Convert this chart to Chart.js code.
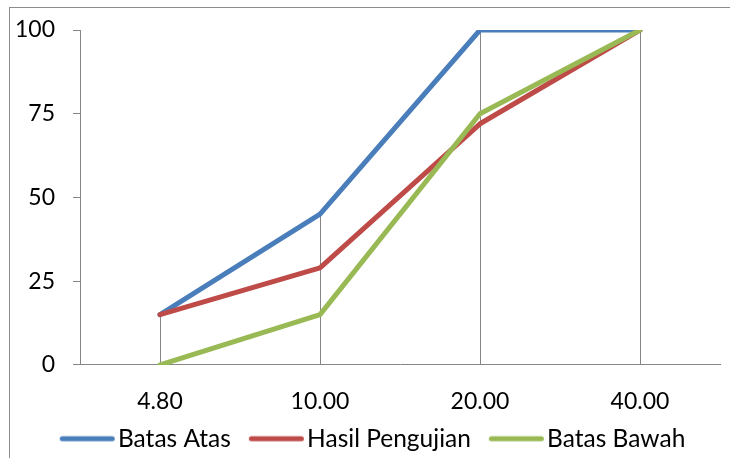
<!DOCTYPE html>
<html>
<head>
<meta charset="utf-8">
<script src="https://cdn.jsdelivr.net/npm/chart.js@4/dist/chart.umd.min.js"></script>
<style>
  html, body { margin: 0; padding: 0; background: #fff; width: 730px; height: 458px; overflow: hidden; }
  #frame { position: absolute; left: 9px; top: 7px; width: 730px; height: 460px; border-left: 1.5px solid #8c8c8c; border-top: 1.5px solid #8c8c8c; }
  #wrap { position: absolute; left: 11px; top: 9px; width: 719px; height: 449px; }
</style>
</head>
<body>
<div id="frame"></div>
<div id="wrap"><canvas id="c" width="719" height="449"></canvas></div>
<script>
const categories = ["4.80", "10.00", "20.00", "40.00"];
const batasAtas = [15, 45, 100, 100];
const hasilPengujian = [15, 29, 72, 100];
const batasBawah = [0, 15, 75, 100];
const yTicks = [0, 25, 50, 75, 100];

const FONT = "Lato";
const FS = 23;
const LFS = 24.5;

function legendLine(color) {
  const c = document.createElement('canvas');
  c.width = 70; c.height = 8;
  const g = c.getContext('2d');
  g.strokeStyle = color; g.lineWidth = 5; g.lineCap = 'round';
  g.beginPath(); g.moveTo(14.5, 4); g.lineTo(64.5, 4); g.stroke();
  return c;
}

const dropLines = {
  id: 'dropLines',
  afterLayout(chart) {
    if (chart.legend) { chart.legend.left += 7; chart.legend.right += 7; }
  },
  beforeDatasetsDraw(chart) {
    const ctx = chart.ctx;
    const xs = chart.scales.x, ys = chart.scales.y;
    ctx.save();
    ctx.strokeStyle = '#868686';
    ctx.lineWidth = 1;
    categories.forEach((c, i) => {
      let mx = -Infinity;
      chart.data.datasets.forEach(ds => { mx = Math.max(mx, ds.data[i]); });
      const x = Math.round(xs.getPixelForValue(i)) + 0.5;
      ctx.beginPath();
      ctx.moveTo(x, ys.getPixelForValue(mx));
      ctx.lineTo(x, ys.getPixelForValue(0));
      ctx.stroke();
    });
    ctx.restore();
  }
};

const mk = (label, data, color, order) => ({
  label, data, borderColor: color, backgroundColor: color,
  borderWidth: 5, pointRadius: 0, pointHoverRadius: 0, tension: 0,
  pointStyle: legendLine(color),
  borderCapStyle: 'round', borderJoinStyle: 'round', fill: false, order
});

new Chart(document.getElementById('c'), {
  type: 'line',
  data: {
    labels: categories,
    datasets: [
      mk('Batas Atas', batasAtas, '#4A7EBB', 2),
      mk('Hasil Pengujian', hasilPengujian, '#BE4B48', 1),
      mk('Batas Bawah', batasBawah, '#98B954', 0)
    ]
  },
  plugins: [dropLines],
  options: {
    responsive: false,
    animation: false,
    events: [],
    layout: { padding: { left: 0, right: 10, top: 21, bottom: -3 } },
    plugins: {
      tooltip: { enabled: false },
      legend: {
        position: 'bottom',
        labels: {
          font: { family: FONT, size: LFS },
          color: '#000',
          usePointStyle: true,
          pointStyleWidth: 46,
          padding: 18,
          sort: (a, b) => a.datasetIndex - b.datasetIndex
        }
      }
    },
    scales: {
      x: {
        offset: true,
        afterFit(s) { s.height -= 30; s._computeLabelArea = () => undefined; },
        grid: { display: false, drawTicks: false },
        border: { display: true, color: '#868686', width: 1 },
        ticks: { font: { family: FONT, size: FS }, color: '#000', padding: 23, maxRotation: 0 }
      },
      y: {
        min: 0, max: 100,
        afterFit(s) { s.width = 69; s.paddingTop = 0; s.paddingBottom = 0; },
        afterBuildTicks(s) { s.ticks = yTicks.map(v => ({ value: v })); },
        grid: { drawOnChartArea: false, drawTicks: true, tickLength: 7, color: '#868686' },
        border: { display: true, color: '#868686', width: 1 },
        ticks: { font: { family: FONT, size: FS }, color: '#000', padding: 18 }
      }
    }
  }
});
</script>
</body>
</html>
